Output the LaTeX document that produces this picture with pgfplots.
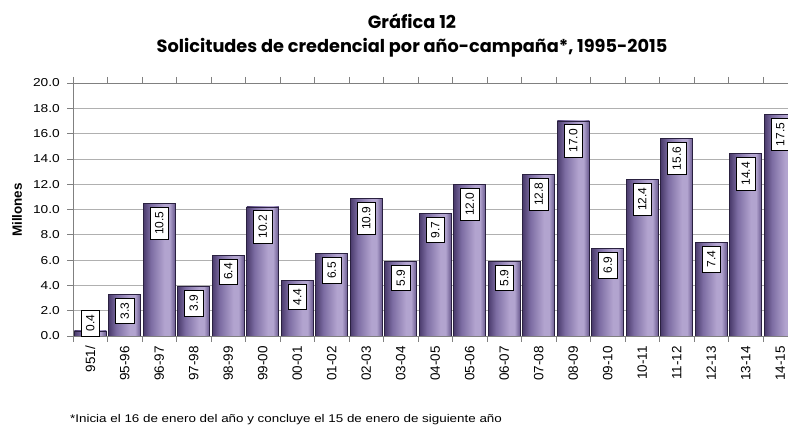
\documentclass[border=0pt]{standalone}
\usepackage{fontspec}
\setmainfont{Liberation Sans}[FakeStretch=1.2]
\newfontfamily\plainfont{Liberation Sans}
\newfontfamily\titlefont{Poppins}
\usepackage{pgfplots}
\pgfplotsset{compat=1.18}
\definecolor{bdark}{HTML}{4A3B6C}
\definecolor{bmid}{HTML}{7D6DA3}
\definecolor{blight}{HTML}{B2A4CF}
\definecolor{bdarkr}{HTML}{66568C}
\definecolor{bline}{HTML}{2A2140}
\definecolor{gridc}{HTML}{B0B0B0}
\definecolor{axisc}{HTML}{808080}
\pgfdeclarehorizontalshading{barshade}{100bp}{color(0bp)=(bdark); color(25bp)=(bdark); color(37bp)=(bmid); color(58bp)=(blight); color(66bp)=(blight); color(75bp)=(bdarkr); color(100bp)=(bdarkr)}
\begin{document}
\begin{tikzpicture}
\useasboundingbox (0,0) rectangle (788bp,428bp);
\begin{axis}[
  at={(73bp,92bp)}, anchor=south west,
  scale only axis, width=724.5bp, height=253bp,
  xmin=-0.5, xmax=20.5, ymin=0, ymax=20,
  ybar, bar width=32bp, bar shift=0pt,
  xtick={0,...,20},
  xticklabels={951/,95-96,96-97,97-98,98-99,99-00,00-01,01-02,02-03,03-04,04-05,05-06,06-07,07-08,08-09,09-10,10-11,11-12,12-13,13-14,14-15},
  minor xtick={-0.5,0.5,...,20.5},
  ytick={0,2,...,20},
  tick align=outside,
  major tick length=6bp, minor tick length=6bp,
  x tick style={draw=none},
  minor x tick style={draw=axisc, line width=0.6bp},
  y tick style={draw=axisc, line width=0.6bp},
  axis line style={draw=axisc, line width=0.8bp},
  ymajorgrids, grid style={draw=gridc, line width=0.6bp},
  xticklabel style={rotate=90, anchor=east, font=\plainfont\fontsize{13.5}{15}\selectfont, inner sep=1bp, xshift=-3bp},
  yticklabel style={font=\fontsize{11.5}{13}\selectfont, inner sep=1bp, xshift=-6bp},
  yticklabel={\pgfmathprintnumber[fixed, fixed zerofill, precision=1, assume math mode=true]{\tick}},
  nodes near coords={\pgfmathprintnumber[fixed, fixed zerofill, precision=1, assume math mode=true]{\pgfplotspointmeta}},
  every node near coord/.append style={font=\plainfont\fontsize{12}{14}\selectfont, rotate=90, fill=white, draw=black, line width=0.6bp, inner xsep=4.5bp, inner ysep=5bp, anchor=east, xshift=-3.5bp},
  mybar/.style={draw=bline, line width=0.7bp, shade, shading=barshade},
]
\addplot[mybar, every node near coord/.append style={anchor=west, xshift=-2bp}] coordinates {(0,0.4)};
\addplot[mybar] coordinates {(1,3.3)};
\addplot[mybar] coordinates {(2,10.5)};
\addplot[mybar] coordinates {(3,3.9)};
\addplot[mybar] coordinates {(4,6.4)};
\addplot[mybar] coordinates {(5,10.2)};
\addplot[mybar] coordinates {(6,4.4)};
\addplot[mybar] coordinates {(7,6.5)};
\addplot[mybar] coordinates {(8,10.9)};
\addplot[mybar] coordinates {(9,5.9)};
\addplot[mybar] coordinates {(10,9.7)};
\addplot[mybar] coordinates {(11,12.0)};
\addplot[mybar] coordinates {(12,5.9)};
\addplot[mybar] coordinates {(13,12.8)};
\addplot[mybar] coordinates {(14,17.0)};
\addplot[mybar] coordinates {(15,6.9)};
\addplot[mybar] coordinates {(16,12.4)};
\addplot[mybar] coordinates {(17,15.6)};
\addplot[mybar] coordinates {(18,7.4)};
\addplot[mybar] coordinates {(19,14.4)};
\addplot[mybar] coordinates {(20,17.5)};
\end{axis}
\node[anchor=base, font=\titlefont\bfseries\fontsize{17.8}{20}\selectfont] at (412bp,399bp) {Gráfica 12};
\node[anchor=base, font=\titlefont\bfseries\fontsize{17.8}{20}\selectfont] at (412bp,375bp) {Solicitudes de credencial por año-campaña*, 1995-2015};
\node[rotate=90, font=\plainfont\bfseries\fontsize{13.5}{15}\selectfont] at (17bp,218bp) {Millones};
\node[anchor=base west, font=\fontsize{11.2}{13}\selectfont, inner sep=0pt] at (70bp,6bp) {*Inicia el 16 de enero del año y concluye el 15 de enero de siguiente año};
\end{tikzpicture}
\end{document}
